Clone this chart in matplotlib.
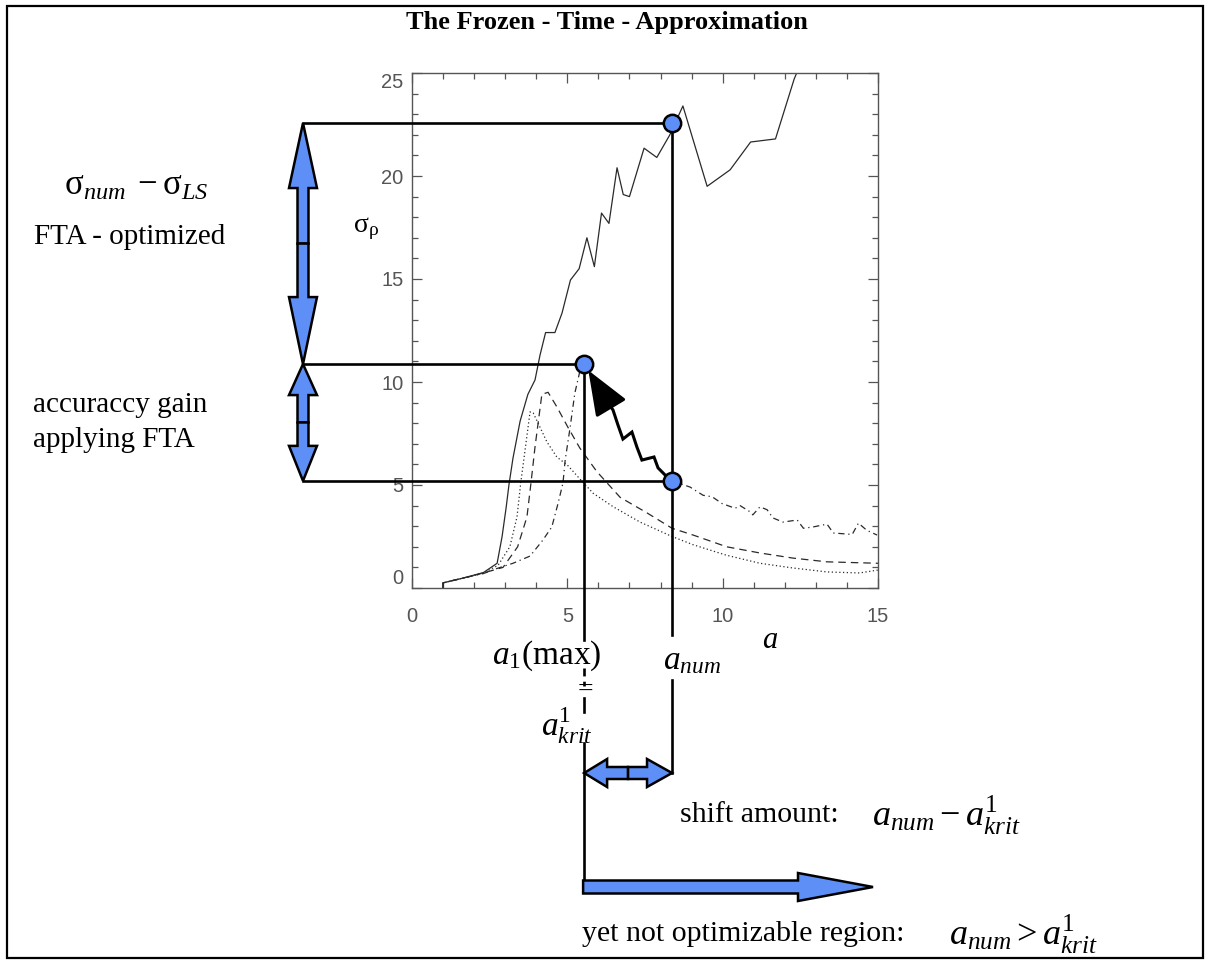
"""
plot.py
-------
Frozen-Time-Approximation sketch: sigma_rho vs a with the FTA annotations.
"""

import matplotlib
matplotlib.use("Agg")
import matplotlib.pyplot as plt
from matplotlib.patches import FancyArrow, Rectangle
import numpy as np

plt.rcParams["mathtext.fontset"] = "custom"
plt.rcParams["mathtext.rm"] = "Liberation Serif"
plt.rcParams["mathtext.it"] = "Liberation Serif:italic"
plt.rcParams["mathtext.bf"] = "Liberation Serif:bold"

# ---- data ------------------------------------------------------------------
solid_x = [1.0, 1.0, 1.64, 2.3, 2.74, 2.9, 3.03, 3.12, 3.25, 3.48, 3.73, 3.96, 4.12,
           4.3, 4.6, 4.83, 5.1, 5.38, 5.63, 5.87, 6.1, 6.34, 6.6, 6.8, 7.0, 7.47,
           7.88, 8.3, 8.72, 9.5, 10.24, 10.9, 11.7, 12.3, 12.6]
solid_y = [0.0, 0.25, 0.48, 0.75, 1.2, 2.5, 3.9, 5.0, 6.3, 8.1, 9.4, 10.1, 11.3,
           12.4, 12.4, 13.35, 14.95, 15.5, 17.0, 15.6, 18.2, 17.7, 20.4, 19.1, 19.0, 21.35,
           20.9, 22.0, 23.4, 19.5, 20.3, 21.65, 21.8, 24.7, 25.8]

dotted_x = [1.0, 1.0, 1.64, 2.3, 2.77, 3.15, 3.38, 3.5, 3.64, 3.8, 3.9, 4.06, 4.34,
            4.66, 5.0, 5.4, 5.83, 6.47, 7.34, 8.37, 9.05, 10.1, 11.2, 12.27, 13.36,
            14.4, 15.0]
dotted_y = [0.0, 0.25, 0.48, 0.73, 1.1, 2.0, 3.45, 5.1, 6.7, 8.55, 8.5, 8.0, 7.1,
            6.36, 5.97, 5.3, 4.6, 3.95, 3.2, 2.5, 2.1, 1.6, 1.2, 0.97, 0.78,
            0.73, 0.87]

dashed_x = [1.0, 1.0, 1.64, 2.3, 2.93, 3.4, 3.7, 3.83, 3.96, 4.18, 4.38, 4.66, 5.02,
            5.4, 5.95, 6.7, 7.56, 8.37, 9.05, 10.13, 11.2, 12.27, 13.36, 15.0]
dashed_y = [0.0, 0.25, 0.48, 0.73, 1.0, 2.0, 3.45, 5.1, 6.85, 9.4, 9.5, 8.8, 7.8,
            6.8, 5.65, 4.4, 3.65, 2.9, 2.57, 2.0, 1.7, 1.45, 1.27, 1.2]

dashdot_left_x = [1.0, 1.0, 1.64, 2.3, 2.74, 3.25, 3.8, 4.2, 4.5, 4.7, 4.86, 4.93,
                  5.09, 5.24, 5.4, 5.54]
dashdot_left_y = [0.0, 0.25, 0.48, 0.7, 0.95, 1.2, 1.55, 2.3, 2.96, 4.1, 5.1, 6.2,
                  7.8, 9.45, 10.5, 10.87]
dashdot_right_x = [8.37, 8.95, 9.37, 9.66, 9.98, 10.4, 10.56, 10.88, 10.97, 11.2,
                   11.43, 11.62, 11.94, 12.4, 12.6, 12.9, 13.36, 13.56, 14.17, 14.37,
                   14.64, 14.97]
dashdot_right_y = [5.2, 4.9, 4.5, 4.43, 4.1, 3.87, 4.0, 3.7, 3.55, 3.94,
                   3.8, 3.4, 3.2, 3.3, 2.9, 2.96, 3.1, 2.67, 2.6, 3.15,
                   2.8, 2.57]

# highlighted points: a_num, a_krit and the sigma levels
a_num = 8.37
a_krit = 5.54
sigma_num = 22.57
sigma_max = 10.87
sigma_ls = 5.2

# zig-zag "shift" path from (a_num, sigma_ls) towards (a_krit, sigma_max)
wave_x = [8.37, 8.21, 7.92, 7.79, 7.40, 7.24, 7.08, 6.79, 6.63, 6.47, 6.21]
wave_y = [5.2, 5.39, 5.83, 6.36, 6.21, 6.84, 7.57, 7.23, 7.91, 8.64, 9.22]
wave_tip = (5.63, 10.68)

x_ticks = [0, 5, 10, 15]
y_ticks = [0, 5, 10, 15, 20, 25]

W, H = 1211, 968
BLUE = "#5e8ff7"
CURVE = "#2a2a2a"
SERIF = "Liberation Serif"

fig = plt.figure(figsize=(W / 100, H / 100), dpi=100)
ax = fig.add_axes([412 / W, 1 - 588 / H, 466 / W, 515 / H])

ax.plot(solid_x, solid_y, color=CURVE, lw=0.9, ls="-")
ax.plot(dotted_x, dotted_y, color=CURVE, lw=0.9, ls=(0, (1, 2)))
ax.plot(dashed_x, dashed_y, color=CURVE, lw=0.9, ls=(0, (6, 4)))
ax.plot(dashdot_left_x, dashdot_left_y, color=CURVE, lw=0.9, ls=(0, (5, 3, 1, 3)))
ax.plot(dashdot_right_x, dashdot_right_y, color=CURVE, lw=0.9, ls=(0, (5, 3, 1, 3)))

ax.set_xlim(0, 15)
ax.set_ylim(0, 25)
ax.set_xticks(x_ticks)
ax.set_xticks(np.arange(0, 16, 1), minor=True)
ax.set_yticks(y_ticks)
ax.set_yticks(np.arange(0, 26, 1), minor=True)
ax.set_xticklabels([str(t) for t in x_ticks], family="Liberation Sans", fontsize=14.5, color="#555")
ylabs = ax.set_yticklabels([str(t) for t in y_ticks], family="Liberation Sans", fontsize=14.5, color="#555")
ylabs[0].set_va("bottom")
ylabs[-1].set_va("top")
ax.tick_params(which="both", direction="in", top=True, right=True, color="#555", width=0.9)
ax.tick_params(which="major", length=7.5)
ax.tick_params(which="minor", length=4.5)
ax.tick_params(axis="x", pad=14)
ax.tick_params(axis="y", pad=6)
for sp in ax.spines.values():
    sp.set_color("#555")
    sp.set_linewidth(1.0)

# ---- overlay in pixel units for the sketch annotations ----------------------
ov = fig.add_axes([0, 0, 1, 1])
ov.set_xlim(0, W)
ov.set_ylim(H, 0)
ov.axis("off")
ov.patch.set_alpha(0)
ov.set_zorder(3)


def to_px(x, y):
    dx, dy = ax.transData.transform((x, y))
    return dx, H - dy


xn, yn = to_px(a_num, sigma_num)
_, yl = to_px(a_num, sigma_ls)
xk, ym = to_px(a_krit, sigma_max)
x_left = 303
y_shift = 773
y_region = 887
lw_line = 1.9

ov.add_patch(Rectangle((7, 6), 1196, 952, fill=False, ec="black", lw=1.6))

# horizontal guide lines
for yy, xe in [(yn, xn), (ym, xk), (yl, xn)]:
    ov.plot([x_left, xe], [yy, yy], color="black", lw=lw_line)
# vertical guide lines
ov.plot([xn, xn], [yn, 635], color="black", lw=lw_line)
ov.plot([xn, xn], [680, y_shift], color="black", lw=lw_line)
ov.plot([xk, xk], [ym, 640], color="black", lw=lw_line)
ov.plot([xk, xk], [668, 686], color="black", lw=lw_line, ls=(0, (3, 2)))
ov.plot([xk, xk], [698, 712], color="black", lw=lw_line)
ov.plot([xk, xk], [743, y_region - 6], color="black", lw=lw_line)


def fat_arrow(x0, y0, x1, y1, hl, shaft=11, hw=28):
    ov.add_patch(FancyArrow(x0, y0, x1 - x0, y1 - y0, width=shaft, head_width=hw,
                            head_length=hl, length_includes_head=True,
                            fc=BLUE, ec="black", lw=1.8, zorder=4))


# double arrows built from two halves, joined in the middle
mid = (yn + ym) / 2
fat_arrow(x_left, mid, x_left, yn, 65)
fat_arrow(x_left, mid, x_left, ym, 67)
mid = (ym + yl) / 2
fat_arrow(x_left, mid, x_left, ym, 31)
fat_arrow(x_left, mid, x_left, yl, 35)
mid = (xk + xn) / 2
fat_arrow(mid, y_shift, xk, y_shift, 23, shaft=12)
fat_arrow(mid, y_shift, xn, y_shift, 25, shaft=12)
fat_arrow(xk - 1, y_region, 873, y_region, 75, shaft=13, hw=28)

# zig-zag arrow
wp = np.array([to_px(x, y) for x, y in zip(wave_x, wave_y)])
ov.plot(wp[:, 0], wp[:, 1], color="black", lw=2.2, zorder=5, solid_joinstyle="miter")
tip = to_px(*wave_tip)
ov.annotate("", xy=tip, xytext=(wp[-1, 0], wp[-1, 1]),
            arrowprops=dict(arrowstyle="-|>,head_length=1.4,head_width=0.55",
                            color="black", lw=2.2, mutation_scale=20), zorder=5)

# highlighted points
for px, py in [(xn, yn), (xk, ym), (xn, yl)]:
    ov.plot(px, py, "o", ms=12.5, mfc=BLUE, mec="black", mew=1.8, zorder=6)

# ---- texts -----------------------------------------------------------------
ov.text(607, 22, "The Frozen - Time - Approximation", ha="center", va="center",
        family=SERIF, fontsize=19, fontweight="bold")
ov.text(136, 185, r"$\mathrm{σ}_{num}\;-\mathrm{σ}_{LS}$", ha="center", va="center",
        fontsize=25)
ov.text(130, 237, "FTA - optimized", ha="center", va="center", family=SERIF, fontsize=21)
ov.text(33, 405, "accuraccy gain", ha="left", va="center", family=SERIF, fontsize=21)
ov.text(33, 440, "applying FTA", ha="left", va="center", family=SERIF, fontsize=21)
ov.text(366, 228, r"$\mathrm{σ}_{\mathrm{ρ}}$", ha="center", va="center", fontsize=20)
ov.text(770, 640, r"$a$", ha="center", va="center", fontsize=22)
ov.text(547, 656, r"$a_1(\mathrm{max})$", ha="center", va="center", fontsize=24)
ov.text(692, 660, r"$a_{num}$", ha="center", va="center", fontsize=24)
ov.text(585, 690, "=", ha="center", va="center", family=SERIF, fontsize=20)
ov.text(567, 726, r"$a^{1}_{krit}$", ha="center", va="center", fontsize=24)
ov.text(680, 815, "shift amount:", ha="left", va="center", family=SERIF, fontsize=21.5)
ov.text(872, 815, r"$a_{num}-a^{1}_{krit}$", ha="left", va="center", fontsize=26)
ov.text(582, 934, "yet not optimizable region:", ha="left", va="center", family=SERIF,
        fontsize=21.5)
ov.text(949, 934, r"$a_{num}>a^{1}_{krit}$", ha="left", va="center", fontsize=26)

fig.savefig("out.png", dpi=100)
